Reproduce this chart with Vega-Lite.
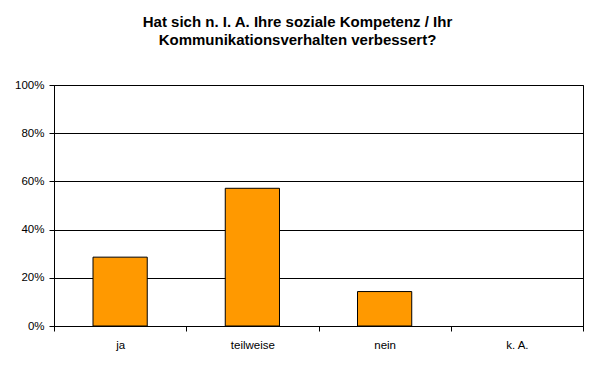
{
  "$schema": "https://vega.github.io/schema/vega-lite/v6.json",
  "autosize": {"type": "none"},
  "padding": {"left": 54, "top": 85, "right": 10, "bottom": 41},
  "width": 529,
  "height": 241,
  "background": "white",
  "title": {
    "text": ["Hat sich n. I. A. Ihre soziale Kompetenz / Ihr", "Kommunikationsverhalten verbessert?"],
    "font": "Liberation Sans",
    "fontSize": 15,
    "fontWeight": "bold",
    "color": "black",
    "lineHeight": 18,
    "anchor": "middle",
    "dx": -21,
    "offset": 31
  },
  "data": {
    "values": [
      {"kategorie": "ja", "anteil": 0.2857},
      {"kategorie": "teilweise", "anteil": 0.5714},
      {"kategorie": "nein", "anteil": 0.1429},
      {"kategorie": "k. A.", "anteil": 0}
    ]
  },
  "mark": {"type": "bar", "width": {"band": 0.41}, "fill": "#FF9900", "stroke": "black", "strokeWidth": 1},
  "encoding": {
    "x": {
      "field": "kategorie",
      "type": "nominal",
      "sort": null,
      "scale": {"paddingInner": 0, "paddingOuter": 0},
      "axis": {
        "title": null,
        "labelAngle": 0,
        "tickBand": "extent",
        "domainColor": "black",
        "tickColor": "black",
        "tickSize": 5,
        "labelFont": "Liberation Sans",
        "labelFontSize": 11.5,
        "labelColor": "black",
        "labelPadding": 8,
        "grid": false
      }
    },
    "y": {
      "field": "anteil",
      "type": "quantitative",
      "scale": {"domain": [0, 1]},
      "axis": {
        "title": null,
        "format": ".0%",
        "values": [0, 0.2, 0.4, 0.6, 0.8, 1],
        "grid": true,
        "gridColor": "black",
        "gridOpacity": 1,
        "domainColor": "black",
        "tickColor": "black",
        "tickSize": 5,
        "labelFont": "Liberation Sans",
        "labelFontSize": 11.5,
        "labelColor": "black",
        "labelPadding": 5
      }
    },
    "strokeOpacity": {
      "condition": {"test": "datum.anteil == 0", "value": 0},
      "value": 1
    }
  },
  "config": {
    "view": {"stroke": "black", "strokeWidth": 1}
  }
}
